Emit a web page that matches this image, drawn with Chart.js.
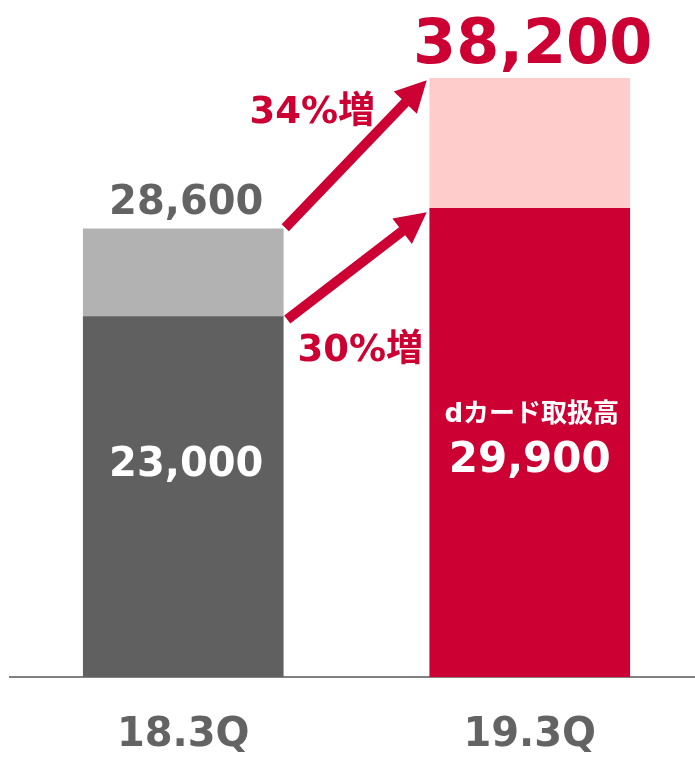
<!DOCTYPE html>
<html>
<head>
<meta charset="utf-8">
<script src="https://cdn.jsdelivr.net/npm/chart.js@4.4.0/dist/chart.umd.min.js"></script>
<style>
  html, body { margin: 0; padding: 0; background: #fff; overflow: hidden; }
  #wrap { width: 710px; height: 760px; }
</style>
</head>
<body>
<div id="wrap"><canvas id="chart"></canvas></div>
<script>
// datos del grafico
const categories = ['18.3Q', '19.3Q'];
const baseValues = [23000, 29900];   // segmento inferior
const extraValues = [5600, 8300];    // segmento superior
const totals = [28600, 38200];
const growthLabels = ['34%増', '30%増'];
const seriesName = 'dカード取扱高';

const FONT = '"DejaVu Sans", "Noto Sans CJK JP", sans-serif';
const RED = '#cc0033';
const GRAY_TEXT = '#636363';

function fmt(v) {
  return v.toLocaleString('en-US');
}

function drawArrow(ctx, x1, y1, x2, y2) {
  const dx = x2 - x1, dy = y2 - y1;
  const len = Math.sqrt(dx * dx + dy * dy);
  const ux = dx / len, uy = dy / len;
  const headLen = 31, headHalf = 16;
  const bx = x2 - ux * headLen, by = y2 - uy * headLen;
  ctx.save();
  ctx.strokeStyle = RED;
  ctx.fillStyle = RED;
  ctx.lineWidth = 10;
  ctx.lineCap = 'butt';
  ctx.beginPath();
  ctx.moveTo(x1, y1);
  ctx.lineTo(bx + ux * 2, by + uy * 2);
  ctx.stroke();
  ctx.beginPath();
  ctx.moveTo(x2, y2);
  ctx.lineTo(bx - uy * headHalf, by + ux * headHalf);
  ctx.lineTo(bx + uy * headHalf, by - ux * headHalf);
  ctx.closePath();
  ctx.fill();
  ctx.restore();
}

const labelsPlugin = {
  id: 'labelsPlugin',
  afterDatasetsDraw(chart) {
    const ctx = chart.ctx;
    const low = chart.getDatasetMeta(0).data;
    const high = chart.getDatasetMeta(1).data;
    const bottom = chart.chartArea.bottom;

    ctx.save();
    ctx.textAlign = 'center';

    // totales encima de las barras
    ctx.textBaseline = 'alphabetic';
    ctx.fillStyle = GRAY_TEXT;
    ctx.font = 'bold 40px ' + FONT;
    ctx.fillText(fmt(totals[0]), high[0].x + 3, high[0].y - 15);
    ctx.fillStyle = RED;
    ctx.font = 'bold 62px ' + FONT;
    ctx.fillText(fmt(totals[1]), high[1].x + 3, high[1].y - 15);

    // valores dentro de las barras
    ctx.textBaseline = 'middle';
    ctx.fillStyle = '#ffffff';
    ctx.font = 'bold 40px ' + FONT;
    ctx.fillText(fmt(baseValues[0]), low[0].x + 3, bottom - 211);
    ctx.font = 'bold 42px ' + FONT;
    ctx.fillText(fmt(baseValues[1]), low[1].x, bottom - 216);
    ctx.font = 'bold 26px ' + FONT;
    ctx.fillText(seriesName, low[1].x + 2, bottom - 262);

    // flechas
    const r0 = low[0].x + low[0].width / 2;
    const l1 = low[1].x - low[1].width / 2;
    drawArrow(ctx, r0 + 2, high[0].y - 1, l1 - 3, high[1].y + 2);
    drawArrow(ctx, r0 + 4, low[0].y + 3, l1 - 3, low[1].y + 4);

    ctx.fillStyle = RED;
    ctx.font = 'bold 37px ' + FONT;
    ctx.fillText(growthLabels[0], r0 + 29, high[1].y + 35);
    ctx.fillText(growthLabels[1], r0 + 77, low[0].y + 35);
    ctx.restore();
  }
};

new Chart(document.getElementById('chart'), {
  type: 'bar',
  data: {
    labels: categories,
    datasets: [
      {
        data: baseValues,
        backgroundColor: ['#606060', RED],
        borderWidth: 0,
        barThickness: 200,
      },
      {
        data: extraValues,
        backgroundColor: ['#b2b2b2', '#ffcccc'],
        borderWidth: 0,
        barThickness: 200,
      }
    ]
  },
  options: {
    responsive: true,
    maintainAspectRatio: false,
    animation: false,
    layout: { padding: { top: 3, left: 10, right: 7, bottom: 0 } },
    plugins: {
      legend: { display: false },
      tooltip: { enabled: false }
    },
    scales: {
      x: {
        stacked: true,
        grid: { display: false, drawTicks: false },
        border: { display: true, color: '#808080', width: 2 },
        ticks: {
          padding: 35,
          color: GRAY_TEXT,
          font: { family: FONT, size: 40, weight: 'bold' }
        },
        afterFit(scale) {
          scale.height = 83;
        }
      },
      y: {
        stacked: true,
        display: false,
        min: 0,
        max: 43000
      }
    }
  },
  plugins: [labelsPlugin]
});
</script>
</body>
</html>
